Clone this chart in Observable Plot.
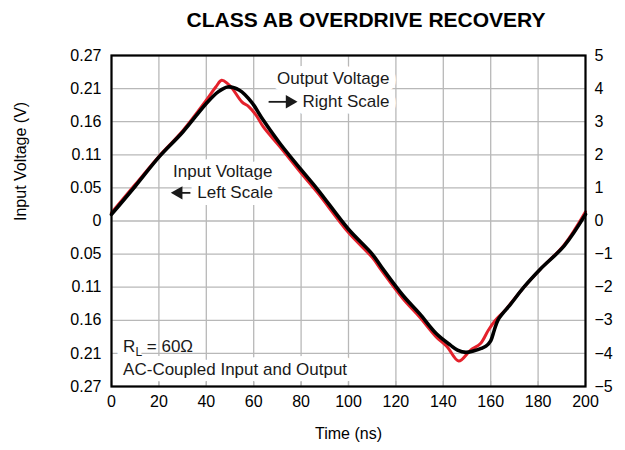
<!DOCTYPE html>
<html><head><meta charset="utf-8">
<script src="https://cdn.jsdelivr.net/npm/d3@7"></script>
<script src="https://cdn.jsdelivr.net/npm/@observablehq/plot@0.6"></script>
<style>
body{margin:0;background:#fff;font-family:"Liberation Sans",Arial,sans-serif;}
#title{width:625px;height:40px;line-height:40px;box-sizing:border-box;padding-left:107px;text-align:center;font-weight:bold;font-size:21px;color:#000;}
</style></head><body>
<div id="title">CLASS AB OVERDRIVE RECOVERY</div>
<div id="chart"></div>
<script>
// Input voltage (red), expressed on the right-scale units
const inputTime = [0, 10, 20, 30, 40, 44, 46.5, 49, 51, 55, 58, 61, 64, 71, 80, 87, 100, 110, 114, 123, 130, 137, 141.6, 146.5, 151.5, 155.7, 159, 162, 166, 174, 181, 191, 200];
const inputValue = [0.25, 1.1, 1.95, 2.72, 3.65, 4.05, 4.25, 4.15, 4.0, 3.6, 3.45, 3.2, 2.85, 2.25, 1.45, 0.85, -0.35, -1.1, -1.5, -2.35, -2.9, -3.5, -3.8, -4.23, -3.9, -3.7, -3.3, -3.0, -2.7, -2.0, -1.45, -0.72, 0.28];
// Output voltage (black), right scale
const outputTime = [0, 10, 20, 30, 40, 45, 49, 54, 59, 64, 71, 80, 87, 100, 110, 114, 123, 130, 137, 143, 146, 149.5, 153, 156, 158, 160, 161.5, 163, 165, 168, 174, 181, 191, 200];
const outputValue = [0.2, 1.05, 1.93, 2.68, 3.55, 3.9, 4.05, 3.95, 3.6, 3.05, 2.35, 1.55, 0.95, -0.25, -1.0, -1.4, -2.25, -2.8, -3.4, -3.75, -3.9, -3.97, -3.92, -3.85, -3.78, -3.62, -3.3, -3.0, -2.8, -2.55, -2.0, -1.45, -0.75, 0.2];

const xTicks = [0, 20, 40, 60, 80, 100, 120, 140, 160, 180, 200];
const rightTicks = [5, 4, 3, 2, 1, 0, -1, -2, -3, -4, -5];
const rightLabels = ["5", "4", "3", "2", "1", "0", "\u22121", "\u22122", "\u22123", "\u22124", "\u22125"];
const leftLabels = ["0.27", "0.21", "0.16", "0.11", "0.05", "0", "0.05", "0.11", "0.16", "0.21", "0.27"];

const inputRows = inputTime.map((t, i) => ({t, v: inputValue[i]}));
const outputRows = outputTime.map((t, i) => ({t, v: outputValue[i]}));

const notesEnd = [
  {t: 117.3, v: 4.3, text: "Output Voltage"},
  {t: 117.3, v: 3.6, text: "Right Scale"}
];
const notesStart = [
  {t: 26, v: 1.48, text: "Input Voltage"},
  {t: 36.2, v: 0.85, text: "Left Scale"},
  {t: 4.9, v: -3.8, text: "RL = 60\u03A9"},
  {t: 4.9, v: -4.5, text: "AC-Coupled Input and Output"}
];
// annotation arrows: shaft from t1 to t2, head at "head"
const arrows = [
  {t1: 66.5, t2: 75.5, head: 75.2, v: 3.6, rotate: 90},
  {t1: 28, t2: 33.5, head: 28.3, v: 0.85, rotate: -90}
];

const font = "Liberation Sans, Arial, Helvetica, sans-serif";
const halo = {fontSize: 17, fill: "#1a1a1a", stroke: "white", strokeWidth: 14, strokeLinejoin: "round"};
const chart = Plot.plot({
  width: 625, height: 410,
  marginTop: 15, marginBottom: 64, marginLeft: 111, marginRight: 40,
  style: {fontFamily: font, fontSize: "16px", background: "#fff", color: "#000"},
  x: {domain: [0, 200]},
  y: {domain: [-5, 5]},
  marks: [
    Plot.gridX(xTicks, {stroke: "#b8b8b8", strokeOpacity: 1, strokeWidth: 1.3}),
    Plot.gridY(rightTicks, {stroke: "#b8b8b8", strokeOpacity: 1, strokeWidth: 1.3}),
    Plot.line(inputRows, {x: "t", y: "v", stroke: "#e4212b", strokeWidth: 3, curve: "catmull-rom"}),
    Plot.line(outputRows, {x: "t", y: "v", stroke: "#000", strokeWidth: 3.6, curve: "catmull-rom"}),
    Plot.text(notesEnd, {x: "t", y: "v", text: "text", textAnchor: "end", ...halo}),
    Plot.text(notesStart, {x: "t", y: "v", text: "text", textAnchor: "start", ...halo}),
    Plot.ruleY(arrows, {x1: "t1", x2: "t2", y: "v", stroke: "#1a1a1a", strokeWidth: 1.8}),
    Plot.dot(arrows, {x: "head", y: "v", symbol: "triangle", rotate: "rotate", r: 5, fill: "#1a1a1a", stroke: "none"}),
    Plot.axisX({ticks: xTicks, tickSize: -5, tickFormat: () => "", stroke: "#b8b8b8", strokeWidth: 1.3, label: null}),
    Plot.axisX({ticks: xTicks, tickSize: 0, tickPadding: 9, label: null, fontSize: 16}),
    Plot.axisY({anchor: "left", ticks: rightTicks, tickSize: 0, tickPadding: 10, label: null, fontSize: 16, tickFormat: d => leftLabels[rightTicks.indexOf(d)]}),
    Plot.axisY({anchor: "right", ticks: rightTicks, tickSize: 0, tickPadding: 9, label: null, fontSize: 16, tickFormat: d => rightLabels[rightTicks.indexOf(d)]}),
    Plot.frame({stroke: "#000", strokeWidth: 2.2}),
    Plot.text(["Time (ns)"], {frameAnchor: "bottom", dy: 52, fontSize: 16}),
    Plot.text(["Input Voltage (V)"], {frameAnchor: "left", dx: -91, rotate: -90, fontSize: 16})
  ]
});
document.getElementById("chart").appendChild(chart);

// subscript L in R_L (the subscript gets no halo so it does not cover the R)
d3.select(chart).selectAll("text").each(function() {
  if (this.textContent === "RL = 60\u03A9") {
    const el = d3.select(this);
    el.text(null);
    el.append("tspan").text("R");
    el.append("tspan").attr("dy", 4).attr("font-size", 12).attr("stroke", "none").text("L");
    el.append("tspan").attr("dy", -4).attr("stroke", "none").text(" = 60\u03A9");
  }
});
</script>
</body></html>
